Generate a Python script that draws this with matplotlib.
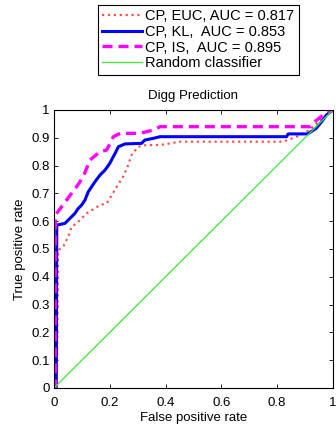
import matplotlib
matplotlib.use("Agg")
import matplotlib.pyplot as plt
import numpy as np

plt.rcParams['font.family'] = ['Liberation Sans', 'DejaVu Sans']

# ROC points (false positive rate, true positive rate)
euc_fpr = [0, 0.01, 0.015, 0.033, 0.051, 0.063, 0.081, 0.117, 0.165, 0.189, 0.225,
           0.248, 0.266, 0.278, 0.302, 0.332, 0.38, 0.452, 0.822, 0.87, 0.906, 0.93,
           0.96, 1.0]
euc_tpr = [0, 0.0, 0.496, 0.508, 0.544, 0.58, 0.592, 0.628, 0.658, 0.664, 0.724,
           0.76, 0.802, 0.838, 0.868, 0.874, 0.874, 0.886, 0.886, 0.904, 0.922, 0.94,
           0.97, 1.0]
kl_fpr = [0, 0.008, 0.01, 0.039, 0.051, 0.063, 0.075, 0.087, 0.099, 0.111, 0.123,
          0.135, 0.147, 0.165, 0.183, 0.2, 0.219, 0.231, 0.255, 0.314, 0.326, 0.356,
          0.38, 0.834, 0.84, 0.91, 0.94, 0.96, 0.977, 1.0]
kl_tpr = [0, 0.0, 0.586, 0.592, 0.604, 0.616, 0.628, 0.646, 0.658, 0.676, 0.706,
          0.724, 0.742, 0.766, 0.784, 0.808, 0.844, 0.868, 0.878, 0.88, 0.892, 0.898,
          0.904, 0.904, 0.914, 0.914, 0.934, 0.958, 0.982, 1.0]
is_fpr = [0, 0.005, 0.005, 0.045, 0.081, 0.105, 0.129, 0.165, 0.189, 0.213, 0.237,
          0.308, 0.356, 0.38, 0.918, 0.935, 0.965, 1.0]
is_tpr = [0, 0.0, 0.622, 0.676, 0.724, 0.76, 0.82, 0.85, 0.856, 0.904, 0.916,
          0.916, 0.928, 0.94, 0.94, 0.958, 0.982, 1.0]
rand_fpr = [0, 1]
rand_tpr = [0, 1]

labels = ['CP, EUC, AUC = 0.817', 'CP, KL,  AUC = 0.853',
          'CP, IS,  AUC = 0.895', 'Random classifier']

fig = plt.figure(figsize=(3.36, 4.28), dpi=100)
ax = fig.add_axes([0.1607, 0.0935, 0.830, 0.6495])

l1, = ax.plot(euc_fpr, euc_tpr, color='#ff5050', linestyle=':', linewidth=1.6)
l2, = ax.plot(kl_fpr, kl_tpr, color='#0000ff', linestyle='-', linewidth=2.2)
l3, = ax.plot(is_fpr, is_tpr, color='#ff00ff', linestyle=(0, (3, 1.8)), linewidth=2.4)
l4, = ax.plot(rand_fpr, rand_tpr, color='#33ee33', linestyle='-', linewidth=0.9)

ax.set_xlim(0, 1)
ax.set_ylim(0, 1)
ax.set_xticks(np.arange(0, 1.01, 0.2))
ax.set_xticklabels(['0', '0.2', '0.4', '0.6', '0.8', '1'])
ax.set_yticks(np.arange(0, 1.01, 0.1))
ax.set_yticklabels(['0', '0.1', '0.2', '0.3', '0.4', '0.5', '0.6', '0.7',
                    '0.8', '0.9', '1'])
ax.tick_params(direction='in', top=True, right=True, labelsize=9.5, length=3,
               width=0.6)
ax.tick_params(axis='x', pad=6.5)
ax.tick_params(axis='y', pad=3)
for s in ax.spines.values():
    s.set_linewidth(0.8)

ax.set_xlabel('False positive rate', fontsize=9.5, labelpad=2.5)
ax.set_ylabel('True positive rate', fontsize=9.5, labelpad=4)
ax.set_title('Digg Prediction', fontsize=9.5, pad=8)

leg = fig.legend([l1, l2, l3, l4], labels, loc='upper left',
                 bbox_to_anchor=(0.2917, 0.989), fontsize=10.5, frameon=True,
                 fancybox=False, edgecolor='black', framealpha=1,
                 handlelength=2.75, handletextpad=0.2, borderpad=0.3,
                 labelspacing=0.12, borderaxespad=0)
leg.get_frame().set_linewidth(0.8)

fig.savefig('out.png', dpi=100)
